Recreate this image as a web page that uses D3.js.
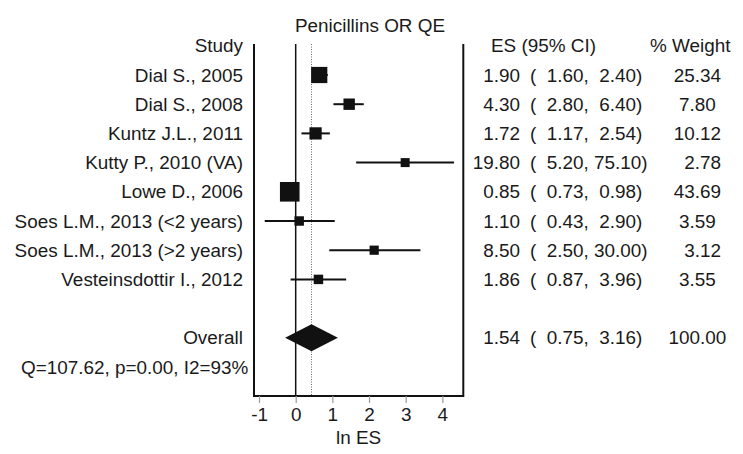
<!DOCTYPE html>
<html>
<head>
<meta charset="utf-8">
<script src="https://cdn.jsdelivr.net/npm/d3@7"></script>
<style>
  body { margin: 0; background: #fff; }
  text { font-family: "Liberation Sans", Arial, sans-serif; font-size: 18.9px; fill: #1a1a1a; }
</style>
</head>
<body>
<svg id="chart" width="743" height="454"></svg>
<script>
// study rows
var studies = ["Dial S., 2005", "Dial S., 2008", "Kuntz J.L., 2011", "Kutty P., 2010 (VA)",
               "Lowe D., 2006", "Soes L.M., 2013 (<2 years)", "Soes L.M., 2013 (>2 years)",
               "Vesteinsdottir I., 2012"];
var es     = [1.90, 4.30, 1.72, 19.80, 0.85, 1.10, 8.50, 1.86];
var lower  = [1.60, 2.80, 1.17, 5.20, 0.73, 0.43, 2.50, 0.87];
var upper  = [2.40, 6.40, 2.54, 75.10, 0.98, 2.90, 30.00, 3.96];
var weight = [25.34, 7.80, 10.12, 2.78, 43.69, 3.59, 3.12, 3.55];

// pooled estimate: es, lower, upper, weight
var overall = [1.54, 0.75, 3.16, 100.00];
var hetText = "Q=107.62, p=0.00, I2=93%";
var xTicks = [-1, 0, 1, 2, 3, 4];

var svg = d3.select("#chart");

var x = d3.scaleLinear().domain([-1.137, 4.571]).range([254, 463.3]);
// row index -> y ; -1 header, 0..7 studies, 9 overall, 10 heterogeneity
var y = d3.scaleLinear().domain([0, 10]).range([75, 367]);
var boxSize = d3.scaleSqrt().domain([0, 43.69]).range([5.4, 19.6]);

var plotTop = 44, plotBottom = 396;

function pad(s, n) { while (s.length < n) s = " " + s; return s; }
function ciString(lo, hi) { return "(" + " " + pad(lo.toFixed(2), 5) + ", " + pad(hi.toFixed(2), 5) + ")"; }

// frame (no top line)
svg.append("path")
   .attr("d", "M" + x.range()[0] + "," + plotTop + "V" + plotBottom + "H" + x.range()[1] + "V" + plotTop)
   .attr("fill", "none").attr("stroke", "#111").attr("stroke-width", 2);

// null line
svg.append("line")
   .attr("x1", x(0)).attr("x2", x(0)).attr("y1", plotTop).attr("y2", plotBottom)
   .attr("stroke", "#111").attr("stroke-width", 1.5);

// overall effect line
svg.append("line")
   .attr("x1", x(Math.log(overall[0]))).attr("x2", x(Math.log(overall[0])))
   .attr("y1", plotTop).attr("y2", plotBottom)
   .attr("stroke", "#666").attr("stroke-width", 1).attr("stroke-dasharray", "1,1.5");

// axis
var axis = svg.append("g")
   .attr("transform", "translate(0," + plotBottom + ")")
   .call(d3.axisBottom(x).tickValues(xTicks).tickSize(7).tickPadding(5).tickFormat(function(d) { return String(d); }));
axis.select(".domain").remove();
axis.selectAll(".tick line").attr("stroke", "#999").attr("stroke-width", 1.2);
axis.selectAll(".tick text").attr("fill", "#1a1a1a");

svg.append("text").attr("x", (x.range()[0] + x.range()[1]) / 2).attr("y", 437).attr("dy", "0.35em")
   .attr("text-anchor", "middle").text("ln ES");

svg.append("text").attr("x", 370).attr("y", 25).attr("dy", "0.35em")
   .attr("text-anchor", "middle").text("Penicillins OR QE");

// CI lines
svg.selectAll(".ci").data(es).enter().append("line")
   .attr("class", "ci")
   .attr("x1", function(d, i) { return x(Math.log(lower[i])); })
   .attr("x2", function(d, i) { return x(Math.log(upper[i])); })
   .attr("y1", function(d, i) { return y(i); })
   .attr("y2", function(d, i) { return y(i); })
   .attr("stroke", "#111").attr("stroke-width", 2);

// weight boxes
svg.selectAll(".box").data(es).enter().append("rect")
   .attr("class", "box")
   .attr("x", function(d, i) { return x(Math.log(d)) - boxSize(weight[i]) / 2; })
   .attr("y", function(d, i) { return y(i) - boxSize(weight[i]) / 2; })
   .attr("width", function(d, i) { return boxSize(weight[i]); })
   .attr("height", function(d, i) { return boxSize(weight[i]); })
   .attr("fill", "#111");

// overall diamond
var oy = y(9), dh = 13.5;
svg.append("path")
   .attr("d", "M" + x(Math.log(overall[1])) + "," + oy +
              "L" + x(Math.log(overall[0])) + "," + (oy - dh) +
              "L" + x(Math.log(overall[2])) + "," + oy +
              "L" + x(Math.log(overall[0])) + "," + (oy + dh) + "Z")
   .attr("fill", "#111");

// left labels
svg.append("text").attr("x", 243).attr("y", y(-1)).attr("dy", "0.35em").attr("text-anchor", "end").text("Study");
svg.selectAll(".lab").data(studies).enter().append("text")
   .attr("class", "lab")
   .attr("x", 243).attr("y", function(d, i) { return y(i); }).attr("dy", "0.35em")
   .attr("text-anchor", "end").text(function(d) { return d; });
svg.append("text").attr("x", 243).attr("y", y(9)).attr("dy", "0.35em").attr("text-anchor", "end").text("Overall");
svg.append("text").attr("x", 21).attr("y", y(10)).attr("dy", "0.35em").text(hetText);

// right columns
svg.append("text").attr("x", 491).attr("y", y(-1)).attr("dy", "0.35em").text("ES (95% CI)");
svg.append("text").attr("x", 650).attr("y", y(-1)).attr("dy", "0.35em").text("% Weight");

var rowsES = es.concat([overall[0]]);
var rowsLo = lower.concat([overall[1]]);
var rowsHi = upper.concat([overall[2]]);
var rowsW = weight.concat([overall[3]]);
var rowIdx = d3.range(studies.length).concat([9]);

svg.selectAll(".esv").data(rowsES).enter().append("text")
   .attr("class", "esv")
   .attr("x", 520).attr("y", function(d, i) { return y(rowIdx[i]); }).attr("dy", "0.35em")
   .attr("text-anchor", "end").text(function(d) { return d.toFixed(2); });

svg.selectAll(".civ").data(rowsES).enter().append("text")
   .attr("class", "civ")
   .attr("x", 530).attr("y", function(d, i) { return y(rowIdx[i]); }).attr("dy", "0.35em")
   .attr("xml:space", "preserve").style("white-space", "pre")
   .text(function(d, i) { return ciString(rowsLo[i], rowsHi[i]) + "     " + pad(rowsW[i].toFixed(2), 6); });
</script>
</body>
</html>
